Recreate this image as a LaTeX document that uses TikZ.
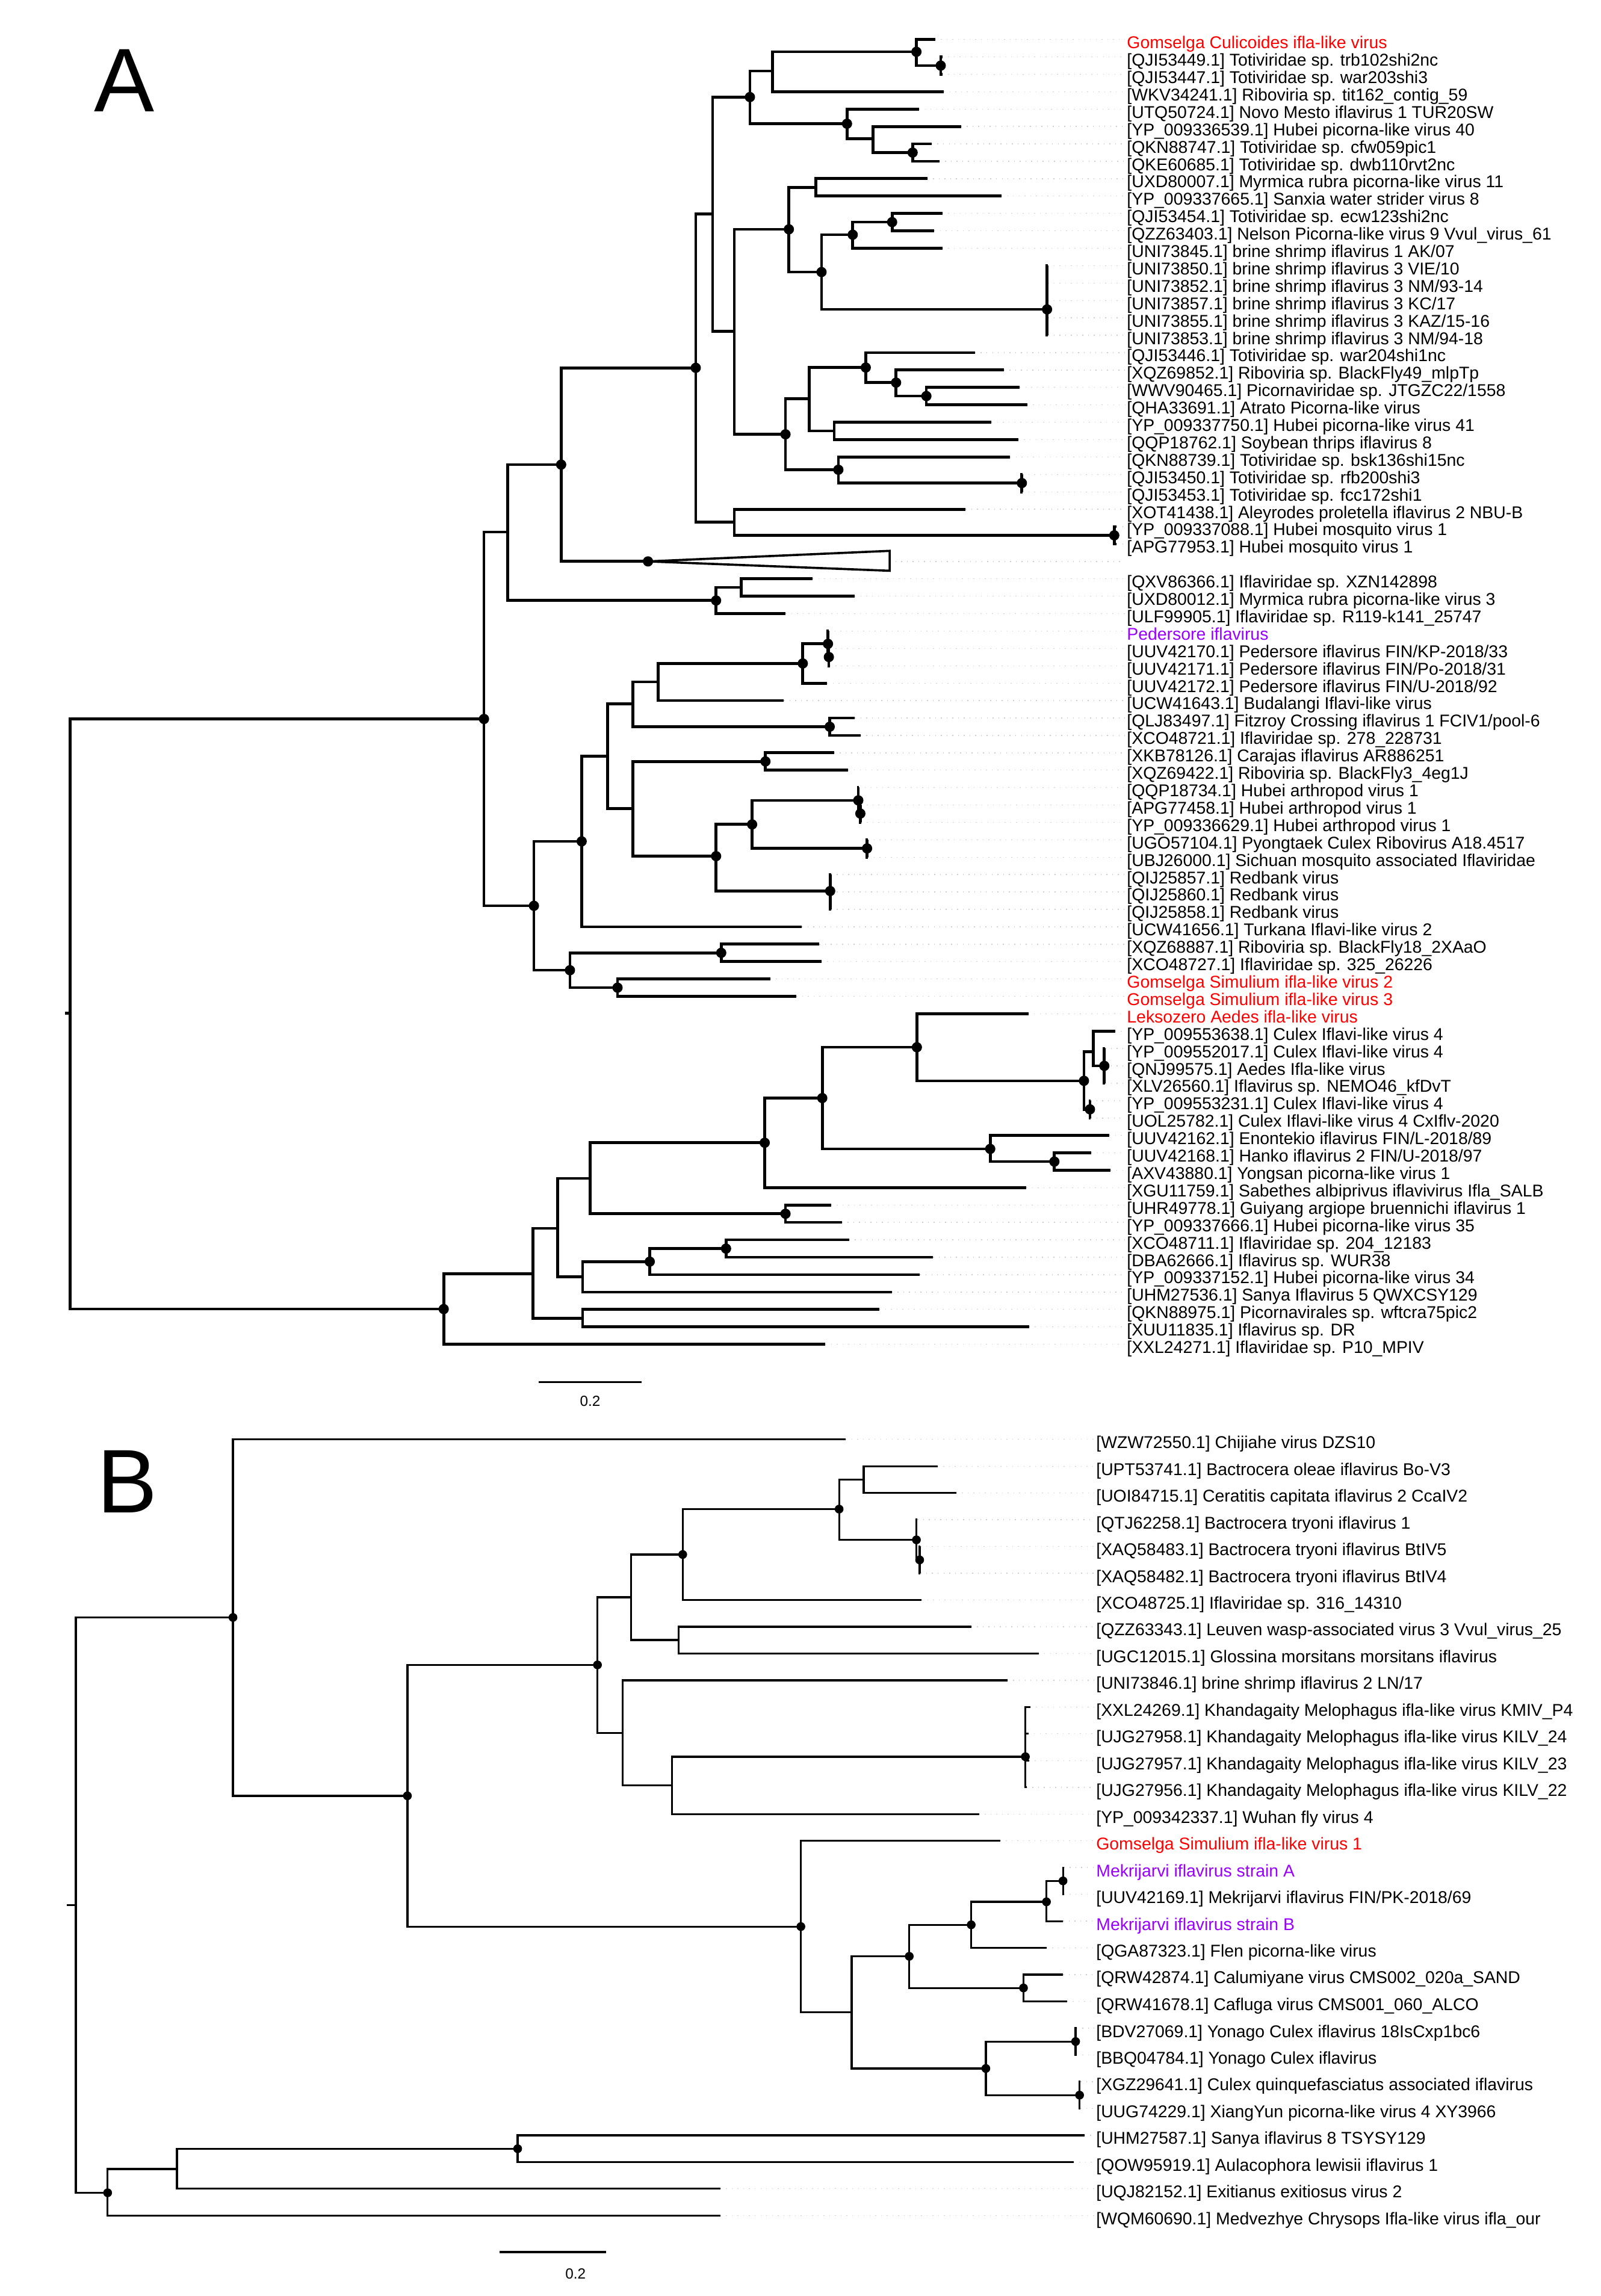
\documentclass[tikz,border=0pt]{standalone}
\usepackage{fontspec}
\setmainfont{Liberation Sans}
\definecolor{hitred}{RGB}{255,0,0}
\definecolor{novel}{RGB}{153,0,255}
\definecolor{leadgray}{RGB}{205,205,205}

\begin{document}
\begin{tikzpicture}[x=0.6pt,y=-0.6pt,
	branchA/.style={line width=1.15pt},
	branchB/.style={line width=0.8pt},
	leader/.style={draw=leadgray,dotted,line width=0.35pt},
	taxon/.style={anchor=west,inner sep=0.75pt,font=\fontsize{7}{8}\selectfont,text height=1.7ex,text depth=0.3ex},
	panel/.style={inner sep=0pt,font=\fontsize{37}{40}\selectfont},
	scalelab/.style={inner sep=0.75pt,font=\fontsize{6}{7}\selectfont}]
	%set diagram left start at 0, and has height of 1568
	\path[use as bounding box,fill=white] (0,0) rectangle (1093,1568);
	
	% Panel letters
	\node[panel] (pA) at (85,55) {A};
	\node[panel] (pB) at (87,1012) {B};
	
	%%%%%%%%%%%%%%%%%%%%%%%% tree A
	% inner nodes
	\coordinate (stubA) at (44.5,692);
	\coordinate (rA) at (48,692);
	\coordinate (nA1) at (330.5,491);
	\coordinate (nA2) at (303,894);
	\coordinate (nA3) at (346.8,363.3);
	\coordinate (nA4) at (364.6,618.6);
	\coordinate (nA5) at (383.2,317.3);
	\coordinate (nA6) at (489,410.1);
	\coordinate (nA7) at (475.1,251.2);
	\coordinate (nA8) at (442.5,383.4);
	\coordinate (nA9) at (506.2,401.2);
	\coordinate (nA10) at (486.6,146.2);
	\coordinate (nA11) at (501.4,356.5);
	\coordinate (nA12) at (760.9,365.6);
	\coordinate (nA13) at (512.1,66.3);
	\coordinate (nA14) at (501.4,226.4);
	\coordinate (nA15) at (527.5,48.5);
	\coordinate (nA16) at (578.4,84.5);
	\coordinate (nA17) at (625.8,35.4);
	\coordinate (nA18) at (642.4,44.8);
	\coordinate (nA19) at (596.2,94.8);
	\coordinate (nA20) at (623.2,104.2);
	\coordinate (nA21) at (538.7,156.6);
	\coordinate (nA22) at (536.4,296.6);
	\coordinate (nA23) at (557.1,128);
	\coordinate (nA24) at (561,185.8);
	\coordinate (nA25) at (582.3,160.3);
	\coordinate (nA26) at (715,211.3);
	\coordinate (nA27) at (609.2,151.7);
	\coordinate (nA28) at (552.7,272.2);
	\coordinate (nA29) at (572.5,320.8);
	\coordinate (nA30) at (591.2,251);
	\coordinate (nA31) at (569.6,294.3);
	\coordinate (nA32) at (611.9,261.3);
	\coordinate (nA33) at (632.6,270.5);
	\coordinate (nA34) at (697.8,329.9);
	\coordinate (nA35) at (397.2,574.6);
	\coordinate (nA36) at (389.2,662.6);
	\coordinate (nA37) at (414.9,516.5);
	\coordinate (nA38) at (432.1,480.7);
	\coordinate (nA39) at (432.1,552.3);
	\coordinate (nA40) at (449.3,465.7);
	\coordinate (nA41) at (566.6,496.3);
	\coordinate (nA42) at (548.2,453.1);
	\coordinate (nA43) at (565.4,439.7);
	\coordinate (nA44) at (566,448.7);
	\coordinate (nA45) at (522.7,520);
	\coordinate (nA46) at (489,584.7);
	\coordinate (nA47) at (513.6,563);
	\coordinate (nA48) at (566.9,608.5);
	\coordinate (nA49) at (586.1,546.6);
	\coordinate (nA50) at (592.1,579.4);
	\coordinate (nA51) at (587.5,555.6);
	\coordinate (nA52) at (492.5,650.7);
	\coordinate (nA53) at (421.7,674.5);
	\coordinate (nA54) at (364,869.8);
	\coordinate (nA55) at (380.9,838.8);
	\coordinate (nA56) at (397.8,900.2);
	\coordinate (nA57) at (403.1,804.8);
	\coordinate (nA58) at (397.8,872.0);
	\coordinate (nA59) at (443.7,861.6);
	\coordinate (nA60) at (495.8,852.7);
	\coordinate (nA61) at (522.2,780.4);
	\coordinate (nA62) at (536.4,828.9);
	\coordinate (nA63) at (561.5,749.9);
	\coordinate (nA64) at (626.1,715.2);
	\coordinate (nA65) at (676.2,784.6);
	\coordinate (nA66) at (720,793.3);
	\coordinate (nA67) at (740.2,738.1);
	\coordinate (nA68) at (746.7,718.2);
	\coordinate (nA69) at (744.3,757.6);
	\coordinate (nA70) at (754.1,727.9);
	
	% tips
	\coordinate (tA0) at (638.6,27);
	\coordinate (tA1) at (643.5,38.9);
	\coordinate (tA2) at (643.5,50.8);
	\coordinate (tA3) at (644.5,62.6);
	\coordinate (tA4) at (627.6,74.5);
	\coordinate (tA5) at (656.3,86.4);
	\coordinate (tA6) at (636.2,98.3);
	\coordinate (tA7) at (641.5,110.2);
	\coordinate (tA8) at (633.2,122);
	\coordinate (tA9) at (683.9,133.9);
	\coordinate (tA10) at (643.6,145.8);
	\coordinate (tA11) at (638,157.7);
	\coordinate (tA12) at (643.6,169.6);
	\coordinate (tA13) at (715.6,181.4);
	\coordinate (tA14) at (715.6,193.3);
	\coordinate (tA15) at (715.6,205.2);
	\coordinate (tA16) at (715.6,217.1);
	\coordinate (tA17) at (715.6,229);
	\coordinate (tA18) at (665.8,240.8);
	\coordinate (tA19) at (685.4,252.7);
	\coordinate (tA20) at (696.3,264.6);
	\coordinate (tA21) at (701.4,276.5);
	\coordinate (tA22) at (677.1,288.4);
	\coordinate (tA23) at (695.4,300.2);
	\coordinate (tA24) at (689.8,312.1);
	\coordinate (tA25) at (698.4,324);
	\coordinate (tA26) at (698.4,335.9);
	\coordinate (tA27) at (659.3,347.8);
	\coordinate (tA28) at (762.4,359.6);
	\coordinate (tA29) at (762.4,371.5);
	\coordinate (tA30) at (607.5,383.4);
	\coordinate (tA31) at (555,395.3);
	\coordinate (tA32) at (583.8,407.2);
	\coordinate (tA33) at (536.4,419);
	\coordinate (tA34) at (566,430.9);
	\coordinate (tA35) at (566.6,442.8);
	\coordinate (tA36) at (566.6,454.7);
	\coordinate (tA37) at (564.8,466.6);
	\coordinate (tA38) at (535.2,478.4);
	\coordinate (tA39) at (583.8,490.3);
	\coordinate (tA40) at (587.6,502.2);
	\coordinate (tA41) at (569.5,514.1);
	\coordinate (tA42) at (579.3,526);
	\coordinate (tA43) at (586.7,537.8);
	\coordinate (tA44) at (588.1,549.7);
	\coordinate (tA45) at (588.1,561.6);
	\coordinate (tA46) at (592.7,573.5);
	\coordinate (tA47) at (592.7,585.4);
	\coordinate (tA48) at (567.5,597.2);
	\coordinate (tA49) at (567.5,609.1);
	\coordinate (tA50) at (567.5,621);
	\coordinate (tA51) at (547.6,632.9);
	\coordinate (tA52) at (559.5,644.8);
	\coordinate (tA53) at (561,656.6);
	\coordinate (tA54) at (526,668.5);
	\coordinate (tA55) at (543.8,680.4);
	\coordinate (tA56) at (702.2,692.3);
	\coordinate (tA57) at (761.5,704.2);
	\coordinate (tA58) at (754.7,716);
	\coordinate (tA59) at (754.7,727.9);
	\coordinate (tA60) at (754.7,739.8);
	\coordinate (tA61) at (744.9,751.7);
	\coordinate (tA62) at (744.9,763.6);
	\coordinate (tA63) at (757.6,775.4);
	\coordinate (tA64) at (745.2,787.3);
	\coordinate (tA65) at (758.5,799.2);
	\coordinate (tA66) at (700.8,811.1);
	\coordinate (tA67) at (567.5,823);
	\coordinate (tA68) at (574.9,834.8);
	\coordinate (tA69) at (579.9,846.7);
	\coordinate (tA70) at (637.1,858.6);
	\coordinate (tA71) at (628.2,870.5);
	\coordinate (tA72) at (609,882.4);
	\coordinate (tA73) at (600.6,894.2);
	\coordinate (tA74) at (702.8,906.1);
	\coordinate (tA75) at (563.6,918);
	
	% Text Node
	\node[taxon,text=hitred] (lA0) at (768,27) {Gomselga Culicoides ifla-like virus};
	\node[taxon] (lA1) at (768,38.9) {[QJI53449.1] Totiviridae sp. trb102shi2nc};
	\node[taxon] (lA2) at (768,50.8) {[QJI53447.1] Totiviridae sp. war203shi3};
	\node[taxon] (lA3) at (768,62.6) {[WKV34241.1] Riboviria sp. tit162\_contig\_59};
	\node[taxon] (lA4) at (768,74.5) {[UTQ50724.1] Novo Mesto iflavirus 1 TUR20SW};
	\node[taxon] (lA5) at (768,86.4) {[YP\_009336539.1] Hubei picorna-like virus 40};
	\node[taxon] (lA6) at (768,98.3) {[QKN88747.1] Totiviridae sp. cfw059pic1};
	\node[taxon] (lA7) at (768,110.2) {[QKE60685.1] Totiviridae sp. dwb110rvt2nc};
	\node[taxon] (lA8) at (768,122) {[UXD80007.1] Myrmica rubra picorna-like virus 11};
	\node[taxon] (lA9) at (768,133.9) {[YP\_009337665.1] Sanxia water strider virus 8};
	\node[taxon] (lA10) at (768,145.8) {[QJI53454.1] Totiviridae sp. ecw123shi2nc};
	\node[taxon] (lA11) at (768,157.7) {[QZZ63403.1] Nelson Picorna-like virus 9 Vvul\_virus\_61};
	\node[taxon] (lA12) at (768,169.6) {[UNI73845.1] brine shrimp iflavirus 1 AK/07};
	\node[taxon] (lA13) at (768,181.4) {[UNI73850.1] brine shrimp iflavirus 3 VIE/10};
	\node[taxon] (lA14) at (768,193.3) {[UNI73852.1] brine shrimp iflavirus 3 NM/93-14};
	\node[taxon] (lA15) at (768,205.2) {[UNI73857.1] brine shrimp iflavirus 3 KC/17};
	\node[taxon] (lA16) at (768,217.1) {[UNI73855.1] brine shrimp iflavirus 3 KAZ/15-16};
	\node[taxon] (lA17) at (768,229) {[UNI73853.1] brine shrimp iflavirus 3 NM/94-18};
	\node[taxon] (lA18) at (768,240.8) {[QJI53446.1] Totiviridae sp. war204shi1nc};
	\node[taxon] (lA19) at (768,252.7) {[XQZ69852.1] Riboviria sp. BlackFly49\_mlpTp};
	\node[taxon] (lA20) at (768,264.6) {[WWV90465.1] Picornaviridae sp. JTGZC22/1558};
	\node[taxon] (lA21) at (768,276.5) {[QHA33691.1] Atrato Picorna-like virus};
	\node[taxon] (lA22) at (768,288.4) {[YP\_009337750.1] Hubei picorna-like virus 41};
	\node[taxon] (lA23) at (768,300.2) {[QQP18762.1] Soybean thrips iflavirus 8};
	\node[taxon] (lA24) at (768,312.1) {[QKN88739.1] Totiviridae sp. bsk136shi15nc};
	\node[taxon] (lA25) at (768,324) {[QJI53450.1] Totiviridae sp. rfb200shi3};
	\node[taxon] (lA26) at (768,335.9) {[QJI53453.1] Totiviridae sp. fcc172shi1};
	\node[taxon] (lA27) at (768,347.8) {[XOT41438.1] Aleyrodes proletella iflavirus 2 NBU-B};
	\node[taxon] (lA28) at (768,359.6) {[YP\_009337088.1] Hubei mosquito virus 1};
	\node[taxon] (lA29) at (768,371.5) {[APG77953.1] Hubei mosquito virus 1};
	\coordinate (lA30) at (766,383.4);
	\node[taxon] (lA31) at (768,395.3) {[QXV86366.1] Iflaviridae sp. XZN142898};
	\node[taxon] (lA32) at (768,407.2) {[UXD80012.1] Myrmica rubra picorna-like virus 3};
	\node[taxon] (lA33) at (768,419) {[ULF99905.1] Iflaviridae sp. R119-k141\_25747};
	\node[taxon,text=novel] (lA34) at (768,430.9) {Pedersore iflavirus};
	\node[taxon] (lA35) at (768,442.8) {[UUV42170.1] Pedersore iflavirus FIN/KP-2018/33};
	\node[taxon] (lA36) at (768,454.7) {[UUV42171.1] Pedersore iflavirus FIN/Po-2018/31};
	\node[taxon] (lA37) at (768,466.6) {[UUV42172.1] Pedersore iflavirus FIN/U-2018/92};
	\node[taxon] (lA38) at (768,478.4) {[UCW41643.1] Budalangi Iflavi-like virus};
	\node[taxon] (lA39) at (768,490.3) {[QLJ83497.1] Fitzroy Crossing iflavirus 1 FCIV1/pool-6};
	\node[taxon] (lA40) at (768,502.2) {[XCO48721.1] Iflaviridae sp. 278\_228731};
	\node[taxon] (lA41) at (768,514.1) {[XKB78126.1] Carajas iflavirus AR886251};
	\node[taxon] (lA42) at (768,526) {[XQZ69422.1] Riboviria sp. BlackFly3\_4eg1J};
	\node[taxon] (lA43) at (768,537.8) {[QQP18734.1] Hubei arthropod virus 1};
	\node[taxon] (lA44) at (768,549.7) {[APG77458.1] Hubei arthropod virus 1};
	\node[taxon] (lA45) at (768,561.6) {[YP\_009336629.1] Hubei arthropod virus 1};
	\node[taxon] (lA46) at (768,573.5) {[UGO57104.1] Pyongtaek Culex Ribovirus A18.4517};
	\node[taxon] (lA47) at (768,585.4) {[UBJ26000.1] Sichuan mosquito associated Iflaviridae};
	\node[taxon] (lA48) at (768,597.2) {[QIJ25857.1] Redbank virus};
	\node[taxon] (lA49) at (768,609.1) {[QIJ25860.1] Redbank virus};
	\node[taxon] (lA50) at (768,621) {[QIJ25858.1] Redbank virus};
	\node[taxon] (lA51) at (768,632.9) {[UCW41656.1] Turkana Iflavi-like virus 2};
	\node[taxon] (lA52) at (768,644.8) {[XQZ68887.1] Riboviria sp. BlackFly18\_2XAaO};
	\node[taxon] (lA53) at (768,656.6) {[XCO48727.1] Iflaviridae sp. 325\_26226};
	\node[taxon,text=hitred] (lA54) at (768,668.5) {Gomselga Simulium ifla-like virus 2};
	\node[taxon,text=hitred] (lA55) at (768,680.4) {Gomselga Simulium ifla-like virus 3};
	\node[taxon,text=hitred] (lA56) at (768,692.3) {Leksozero Aedes ifla-like virus};
	\node[taxon] (lA57) at (768,704.2) {[YP\_009553638.1] Culex Iflavi-like virus 4};
	\node[taxon] (lA58) at (768,716) {[YP\_009552017.1] Culex Iflavi-like virus 4};
	\node[taxon] (lA59) at (768,727.9) {[QNJ99575.1] Aedes Ifla-like virus};
	\node[taxon] (lA60) at (768,739.8) {[XLV26560.1] Iflavirus sp. NEMO46\_kfDvT};
	\node[taxon] (lA61) at (768,751.7) {[YP\_009553231.1] Culex Iflavi-like virus 4};
	\node[taxon] (lA62) at (768,763.6) {[UOL25782.1] Culex Iflavi-like virus 4 CxIflv-2020};
	\node[taxon] (lA63) at (768,775.4) {[UUV42162.1] Enontekio iflavirus FIN/L-2018/89};
	\node[taxon] (lA64) at (768,787.3) {[UUV42168.1] Hanko iflavirus 2 FIN/U-2018/97};
	\node[taxon] (lA65) at (768,799.2) {[AXV43880.1] Yongsan picorna-like virus 1};
	\node[taxon] (lA66) at (768,811.1) {[XGU11759.1] Sabethes albiprivus iflavivirus Ifla\_SALB};
	\node[taxon] (lA67) at (768,823) {[UHR49778.1] Guiyang argiope bruennichi iflavirus 1};
	\node[taxon] (lA68) at (768,834.8) {[YP\_009337666.1] Hubei picorna-like virus 35};
	\node[taxon] (lA69) at (768,846.7) {[XCO48711.1] Iflaviridae sp. 204\_12183};
	\node[taxon] (lA70) at (768,858.6) {[DBA62666.1] Iflavirus sp. WUR38};
	\node[taxon] (lA71) at (768,870.5) {[YP\_009337152.1] Hubei picorna-like virus 34};
	\node[taxon] (lA72) at (768,882.4) {[UHM27536.1] Sanya Iflavirus 5 QWXCSY129};
	\node[taxon] (lA73) at (768,894.2) {[QKN88975.1] Picornavirales sp. wftcra75pic2};
	\node[taxon] (lA74) at (768,906.1) {[XUU11835.1] Iflavirus sp. DR};
	\node[taxon] (lA75) at (768,918) {[XXL24271.1] Iflaviridae sp. P10\_MPIV};
	
	% dotted leaders
	\foreach \k in {0,...,30} \draw[leader] (tA\k) -- (lA\k.west);
	\foreach \k in {31,...,75} \draw[leader] (tA\k) -- (lA\k.west);
	
	% branches
	\draw[branchA] (stubA) -- (rA);
	\foreach \p/\c in {rA/nA1,rA/nA2,nA1/nA3,nA1/nA4,nA3/nA5,nA3/nA6,nA5/nA7,nA5/nA8,
		nA6/nA9,nA6/tA33,nA9/tA31,nA9/tA32,nA7/nA10,nA7/nA11,nA11/tA27,nA11/nA12,nA12/tA28,nA12/tA29,
		nA10/nA13,nA10/nA14,nA13/nA15,nA13/nA16,nA15/nA17,nA15/tA3,nA17/tA0,nA17/nA18,nA18/tA1,nA18/tA2,
		nA16/tA4,nA16/nA19,nA19/tA5,nA19/nA20,nA20/tA6,nA20/tA7,
		nA14/nA21,nA14/nA22,nA21/nA23,nA21/nA24,nA23/tA8,nA23/tA9,nA24/nA25,nA24/nA26,
		nA25/nA27,nA25/tA12,nA27/tA10,nA27/tA11,
		nA26/tA13,nA26/tA14,nA26/tA15,nA26/tA16,nA26/tA17,
		nA22/nA28,nA22/nA29,nA28/nA30,nA28/nA31,nA30/tA18,nA30/nA32,nA32/tA19,nA32/nA33,
		nA33/tA20,nA33/tA21,nA31/tA22,nA31/tA23,nA29/tA24,nA29/nA34,nA34/tA25,nA34/tA26,
		nA4/nA35,nA4/nA36,nA35/nA37,nA35/tA51,nA37/nA38,nA37/nA39,nA38/nA40,nA38/nA41,
		nA40/nA42,nA40/tA38,nA42/nA43,nA42/tA37,nA43/tA34,nA43/nA44,nA44/tA35,nA44/tA36,
		nA41/tA39,nA41/tA40,nA39/nA45,nA39/nA46,nA45/tA41,nA45/tA42,nA46/nA47,nA46/nA48,
		nA47/nA49,nA47/nA50,nA49/tA43,nA49/nA51,nA51/tA44,nA51/tA45,nA50/tA46,nA50/tA47,
		nA48/tA48,nA48/tA49,nA48/tA50,nA36/nA52,nA36/nA53,nA52/tA52,nA52/tA53,nA53/tA54,nA53/tA55,
		nA2/nA54,nA2/tA75,nA54/nA55,nA54/nA56,nA56/tA73,nA56/tA74,nA55/nA57,nA55/nA58,
		nA58/nA59,nA58/tA72,nA59/nA60,nA59/tA71,nA60/tA69,nA60/tA70,nA57/nA61,nA57/nA62,
		nA62/tA67,nA62/tA68,nA61/nA63,nA61/tA66,nA63/nA64,nA63/nA65,nA65/tA63,nA65/nA66,
		nA66/tA64,nA66/tA65,nA64/tA56,nA64/nA67,nA67/nA68,nA67/nA69,nA68/tA57,nA68/nA70,
		nA70/tA58,nA70/tA59,nA70/tA60,nA69/tA61,nA69/tA62}
		\draw[branchA] (\p) |- (\c);
	
	%Shape: collapsed clade
	\coordinate (clpsTop) at (607.5,376.2);
	\coordinate (clpsBot) at (607.5,389.8);
	\draw[line width=0.9pt,line join=miter] (nA8) -- (clpsTop) -- (clpsBot) -- cycle;
	
	% support dots
	\foreach \n in {nA1,nA2,nA4,nA5,nA6,nA7,nA8,nA12,nA13,nA16,nA17,nA18,nA20,nA21,nA22,nA24,
		nA25,nA26,nA27,nA29,nA30,nA32,nA33,nA34,nA35,nA36,nA41,nA42,nA43,nA44,nA45,nA46,nA47,
		nA48,nA49,nA50,nA51,nA52,nA53,nA59,nA60,nA61,nA62,nA63,nA64,nA65,nA66,nA67,nA69,nA70}
		\fill (\n) circle (2.1pt);
	
	%Straight Lines: scale bar A
	\coordinate (sbA1) at (368,944);
	\coordinate (sbA2) at (438,944);
	\draw[branchB] (sbA1) -- (sbA2);
	\node[scalelab] (sbAlab) at (403,957) {0.2};
	
	%%%%%%%%%%%%%%%%%%%%%%%% tree B
	\coordinate (stubB) at (45.5,1301);
	\coordinate (rB) at (51.8,1301);
	\coordinate (nB1) at (159.1,1104.6);
	\coordinate (nB2) at (73.5,1497.5);
	\coordinate (nB3) at (278.2,1226.4);
	\coordinate (nB4) at (408,1137);
	\coordinate (nB5) at (546.9,1315.7);
	\coordinate (nB6) at (431,1090.8);
	\coordinate (nB7) at (425.2,1183.4);
	\coordinate (nB8) at (466.2,1061.6);
	\coordinate (nB9) at (463.5,1120);
	\coordinate (nB10) at (573,1030.6);
	\coordinate (nB11) at (589.8,1010.5);
	\coordinate (nB12) at (625.8,1051.6);
	\coordinate (nB13) at (628,1065.3);
	\coordinate (nB14) at (459,1219.3);
	\coordinate (nB15) at (700.2,1199.7);
	\coordinate (nB16) at (581.6,1374.3);
	\coordinate (nB17) at (620.9,1336);
	\coordinate (nB18) at (673.2,1412.6);
	\coordinate (nB19) at (663.2,1314.5);
	\coordinate (nB20) at (698.9,1357.6);
	\coordinate (nB21) at (714.6,1298.8);
	\coordinate (nB22) at (725.9,1284.5);
	\coordinate (nB23) at (734.5,1394.2);
	\coordinate (nB24) at (737.2,1430.8);
	\coordinate (nB25) at (120.8,1481.3);
	\coordinate (nB26) at (353.5,1467.4);
	
	\coordinate (tB0) at (577.6,983);
	\coordinate (tB1) at (640.2,1001.3);
	\coordinate (tB2) at (652.9,1019.6);
	\coordinate (tB3) at (626.4,1037.8);
	\coordinate (tB4) at (628.6,1056.1);
	\coordinate (tB5) at (628.6,1074.4);
	\coordinate (tB6) at (629.4,1092.7);
	\coordinate (tB7) at (663.2,1110.9);
	\coordinate (tB8) at (709.2,1129.2);
	\coordinate (tB9) at (688,1147.5);
	\coordinate (tB10) at (703.6,1165.8);
	\coordinate (tB11) at (702.2,1184);
	\coordinate (tB12) at (702.7,1202.3);
	\coordinate (tB13) at (701,1220.6);
	\coordinate (tB14) at (668.6,1238.9);
	\coordinate (tB15) at (683,1257.1);
	\coordinate (tB16) at (726.6,1275.4);
	\coordinate (tB17) at (726.6,1293.7);
	\coordinate (tB18) at (725.9,1312);
	\coordinate (tB19) at (714.6,1330.2);
	\coordinate (tB20) at (725.9,1348.5);
	\coordinate (tB21) at (728.6,1366.8);
	\coordinate (tB22) at (735.2,1385.1);
	\coordinate (tB23) at (735.2,1403.3);
	\coordinate (tB24) at (737.9,1421.6);
	\coordinate (tB25) at (737.9,1439.9);
	\coordinate (tB26) at (740.5,1458.2);
	\coordinate (tB27) at (733.1,1476.5);
	\coordinate (tB28) at (491.9,1494.7);
	\coordinate (tB29) at (491.9,1513);
	
	% Text Node
	\node[taxon] (lB0) at (747,983) {[WZW72550.1] Chijiahe virus DZS10};
	\node[taxon] (lB1) at (747,1001.3) {[UPT53741.1] Bactrocera oleae iflavirus Bo-V3};
	\node[taxon] (lB2) at (747,1019.6) {[UOI84715.1] Ceratitis capitata iflavirus 2 CcaIV2};
	\node[taxon] (lB3) at (747,1037.8) {[QTJ62258.1] Bactrocera tryoni iflavirus 1};
	\node[taxon] (lB4) at (747,1056.1) {[XAQ58483.1] Bactrocera tryoni iflavirus BtIV5};
	\node[taxon] (lB5) at (747,1074.4) {[XAQ58482.1] Bactrocera tryoni iflavirus BtIV4};
	\node[taxon] (lB6) at (747,1092.7) {[XCO48725.1] Iflaviridae sp. 316\_14310};
	\node[taxon] (lB7) at (747,1110.9) {[QZZ63343.1] Leuven wasp-associated virus 3 Vvul\_virus\_25};
	\node[taxon] (lB8) at (747,1129.2) {[UGC12015.1] Glossina morsitans morsitans iflavirus};
	\node[taxon] (lB9) at (747,1147.5) {[UNI73846.1] brine shrimp iflavirus 2 LN/17};
	\node[taxon] (lB10) at (747,1165.8) {[XXL24269.1] Khandagaity Melophagus ifla-like virus KMIV\_P4};
	\node[taxon] (lB11) at (747,1184) {[UJG27958.1] Khandagaity Melophagus ifla-like virus KILV\_24};
	\node[taxon] (lB12) at (747,1202.3) {[UJG27957.1] Khandagaity Melophagus ifla-like virus KILV\_23};
	\node[taxon] (lB13) at (747,1220.6) {[UJG27956.1] Khandagaity Melophagus ifla-like virus KILV\_22};
	\node[taxon] (lB14) at (747,1238.9) {[YP\_009342337.1] Wuhan fly virus 4};
	\node[taxon,text=hitred] (lB15) at (747,1257.1) {Gomselga Simulium ifla-like virus 1};
	\node[taxon,text=novel] (lB16) at (747,1275.4) {Mekrijarvi iflavirus strain A};
	\node[taxon] (lB17) at (747,1293.7) {[UUV42169.1] Mekrijarvi iflavirus FIN/PK-2018/69};
	\node[taxon,text=novel] (lB18) at (747,1312) {Mekrijarvi iflavirus strain B};
	\node[taxon] (lB19) at (747,1330.2) {[QGA87323.1] Flen picorna-like virus};
	\node[taxon] (lB20) at (747,1348.5) {[QRW42874.1] Calumiyane virus CMS002\_020a\_SAND};
	\node[taxon] (lB21) at (747,1366.8) {[QRW41678.1] Cafluga virus CMS001\_060\_ALCO};
	\node[taxon] (lB22) at (747,1385.1) {[BDV27069.1] Yonago Culex iflavirus 18IsCxp1bc6};
	\node[taxon] (lB23) at (747,1403.3) {[BBQ04784.1] Yonago Culex iflavirus};
	\node[taxon] (lB24) at (747,1421.6) {[XGZ29641.1] Culex quinquefasciatus associated iflavirus};
	\node[taxon] (lB25) at (747,1439.9) {[UUG74229.1] XiangYun picorna-like virus 4 XY3966};
	\node[taxon] (lB26) at (747,1458.2) {[UHM27587.1] Sanya iflavirus 8 TSYSY129};
	\node[taxon] (lB27) at (747,1476.5) {[QOW95919.1] Aulacophora lewisii iflavirus 1};
	\node[taxon] (lB28) at (747,1494.7) {[UQJ82152.1] Exitianus exitiosus virus 2};
	\node[taxon] (lB29) at (747,1513) {[WQM60690.1] Medvezhye Chrysops Ifla-like virus ifla\_our};
	
	\foreach \k in {0,...,29} \draw[leader] (tB\k) -- (lB\k.west);
	
	\draw[branchB] (stubB) -- (rB);
	\foreach \p/\c in {rB/nB1,rB/nB2,nB1/tB0,nB1/nB3,nB3/nB4,nB3/nB5,nB4/nB6,nB4/nB7,
		nB6/nB8,nB6/nB9,nB8/nB10,nB8/tB6,nB10/nB11,nB10/nB12,nB11/tB1,nB11/tB2,
		nB12/tB3,nB12/nB13,nB13/tB4,nB13/tB5,nB9/tB7,nB9/tB8,nB7/tB9,nB7/nB14,
		nB14/nB15,nB14/tB14,nB15/tB10,nB15/tB11,nB15/tB12,nB15/tB13,
		nB5/tB15,nB5/nB16,nB16/nB17,nB16/nB18,nB17/nB19,nB17/nB20,nB19/nB21,nB19/tB19,
		nB21/nB22,nB21/tB18,nB22/tB16,nB22/tB17,nB20/tB20,nB20/tB21,
		nB18/nB23,nB18/nB24,nB23/tB22,nB23/tB23,nB24/tB24,nB24/tB25,
		nB2/nB25,nB2/tB29,nB25/nB26,nB25/tB28,nB26/tB26,nB26/tB27}
		\draw[branchB] (\p) |- (\c);
	
	\foreach \n in {nB1,nB2,nB3,nB4,nB5,nB8,nB10,nB12,nB13,nB15,nB17,nB18,nB19,nB20,
		nB21,nB22,nB23,nB24,nB26}
		\fill (\n) circle (1.8pt);
	
	%Straight Lines: scale bar B
	\coordinate (sbB1) at (341,1538);
	\coordinate (sbB2) at (414,1538);
	\draw[branchB] (sbB1) -- (sbB2);
	\node[scalelab] (sbBlab) at (393,1553) {0.2};
	
\end{tikzpicture}
\end{document}
